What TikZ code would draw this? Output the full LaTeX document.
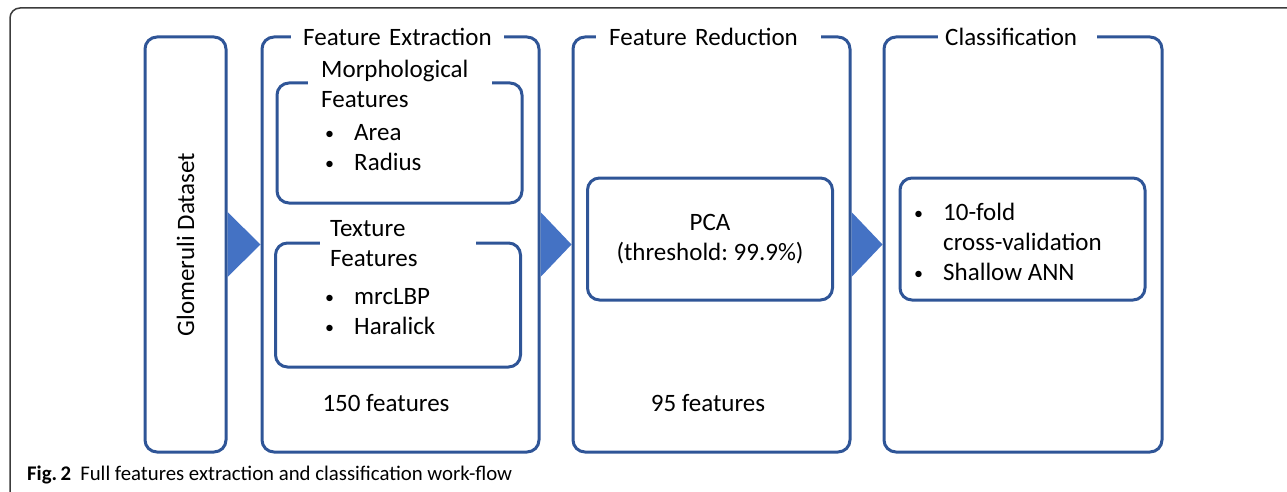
\documentclass[tikz,border=0pt]{standalone}
\usepackage{fontspec}
\setmainfont{Carlito}
\usepackage{tikz}
\usetikzlibrary{positioning, calc}

\definecolor{boxblue}{RGB}{47,85,151}
\definecolor{triblue}{RGB}{68,114,196}
\definecolor{framegray}{RGB}{60,60,60}
\newcommand{\bul}{\makebox[29pt][l]{\raisebox{1.5pt}{\scalebox{0.72}{\textbullet}}}}
\frenchspacing

\begin{document}
\begin{tikzpicture}[x=1pt,y=-1pt,font=\fontsize{25}{30}\selectfont]
	\def \boxtop{37}
	\def \rowmid{244.5}
	\tikzstyle{o-box}=[draw=boxblue,line width=3pt,rounded corners=12pt,minimum height=415pt]
	\tikzstyle{i-box}=[draw=boxblue,line width=3pt,rounded corners=12pt,minimum width=245pt]
	\tikzstyle{t-box}=[fill=white,inner ysep=2pt,anchor=west,align=left]
	\tikzstyle{annot}=[align=left,anchor=west,inner sep=0pt]
	\tikzstyle{arr}=[fill=triblue]
	\useasboundingbox (0,0) rectangle (1287,492);

	% frame of the figure
	\draw[framegray,line width=1.5pt,rounded corners=10pt] (10,492) -- (10,8) -- (1287,8);

	% outer boxes
	\node[o-box,minimum width=81pt]		(glom)	at (185.5,\rowmid)	{};
	\node[o-box,minimum width=277pt]	(fe)	at (400.5,\rowmid)	{};
	\node[o-box,minimum width=277pt]	(fr)	at (711.5,\rowmid)	{};
	\node[o-box,minimum width=278pt]	(cls)	at (1023,\rowmid)	{};

	% inner boxes
	\node[i-box,minimum height=120pt]	(morph)	at (399.5,143)	{};
	\node[i-box,minimum height=124pt]	(tex)	at (398,305)	{};
	\node[i-box,minimum height=122pt]	(pca)	at (710,239)	{};
	\node[i-box,minimum height=122pt]	(clsin)	at (1022.5,239)	{};

	% titles
	\node[t-box,inner xsep=12pt,text width=189pt]	(fe-title)	at (291,\boxtop)	{Feature Extraction};
	\node[t-box,inner xsep=13pt,text width=199pt]	(fr-title)	at (596,\boxtop)	{Feature Reduction};
	\node[t-box,inner xsep=7pt,text width=145pt]	(cls-title)	at (938,\boxtop)	{Classification};
	\node[t-box,inner xsep=13pt,text width=158pt,inner ysep=0pt]	(morph-title)	at (308,84)	{Morphological\\Features};
	\node[t-box,inner xsep=10pt,text width=136pt,inner ysep=0pt]	(tex-title)	at (320,244)	{Texture\\Features};

	% contents
	\node[rotate=90]	(glom-label)	at (glom.center)	{Glomeruli Dataset};
	\node[annot]	(morph-list)	at (325,148)	{\bul Area\\\bul Radius};
	\node[annot]	(tex-list)	at (325,312)	{\bul mrcLBP\\\bul Haralick};
	\node[align=center]	(pca-label)	at (pca.center)	{PCA\\(threshold: 99.9\%)};
	\node[annot]	(cls-list)	at (914,242)	{\bul 10-fold\\\hspace*{29pt}cross-validation\\\bul Shallow ANN};
	\node	(fe-count)	at (386,403)	{150 features};
	\node	(fr-count)	at (708,403)	{95 features};

	% arrows between the stages
	\foreach \a/\b in {glom/fe,fe/fr,fr/cls}
		\fill[arr] ($(\a.east)+(0,-32.5)$) -- (\b.west) -- ($(\a.east)+(0,32.5)$) -- cycle;

	% caption
	\node[annot,font=\fontsize{20.8}{24}\selectfont]	(caption)	at (27,475)	{\textbf{Fig.\,2}\hspace{9pt}Full features extraction and classification work-flow};
\end{tikzpicture}
\end{document}
